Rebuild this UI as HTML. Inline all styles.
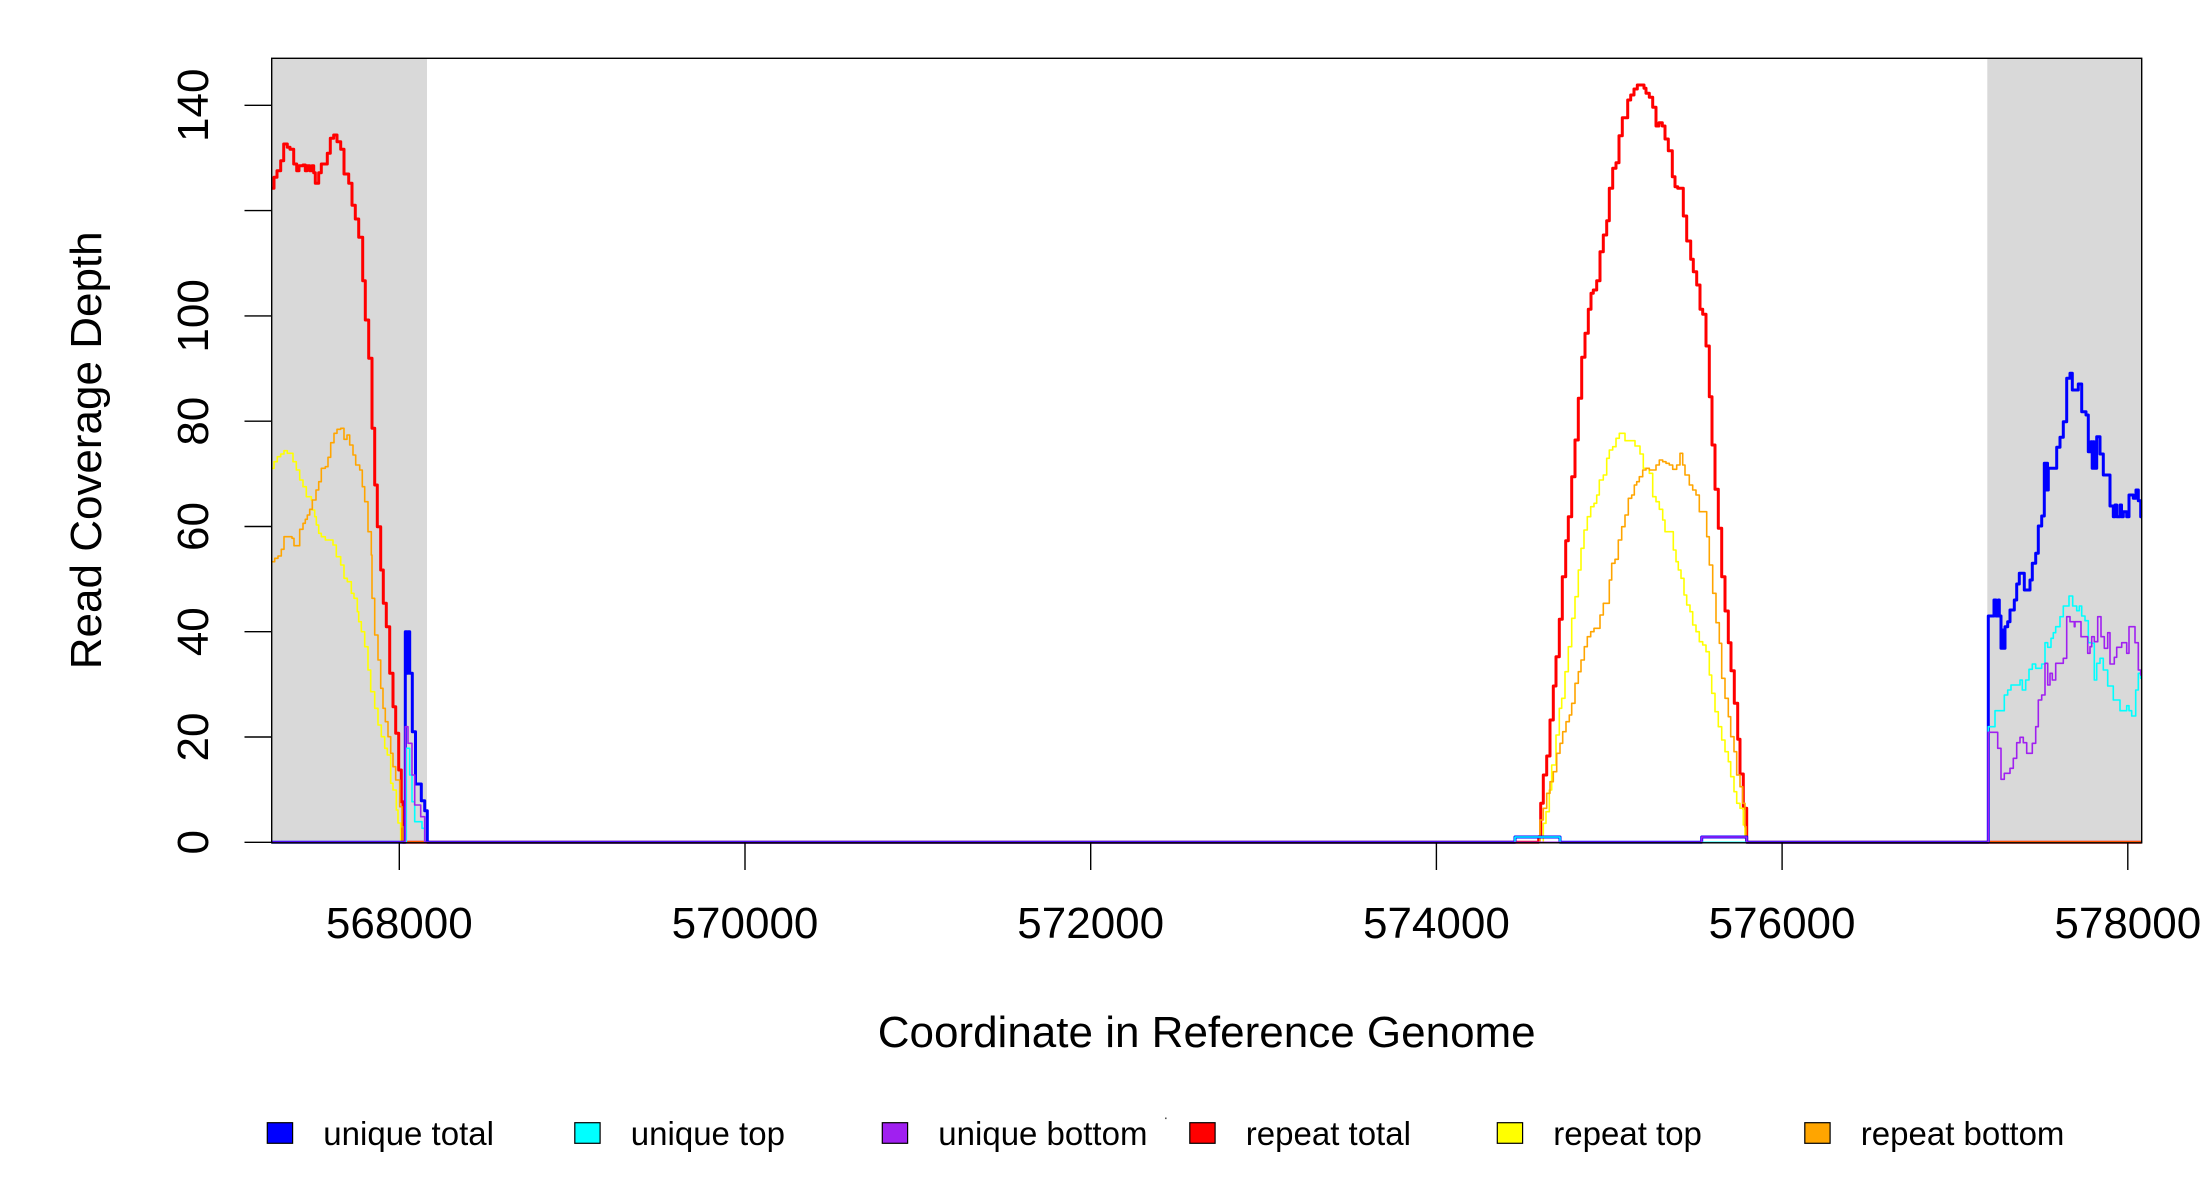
<!DOCTYPE html>
<html><head><meta charset="utf-8"><style>
html,body{margin:0;padding:0;background:#fff;}
svg{display:block;}
text{font-family:"Liberation Sans",Arial,sans-serif;fill:#000;}
</style></head><body>
<svg width="2200" height="1200" viewBox="0 0 2200 1200" xmlns="http://www.w3.org/2000/svg">
<rect x="0" y="0" width="2200" height="1200" fill="#fff"/>
<!-- gray regions -->
<rect x="271.7" y="58.3" width="155.3" height="784" fill="#D9D9D9"/>
<rect x="1987.3" y="58.3" width="154.4" height="784" fill="#D9D9D9"/>

<g fill="none" stroke-linejoin="round" stroke-linecap="butt">
<!-- repeat total -->
<path stroke="#FF0000" stroke-width="3" d="M271.7,188.3 H274 V177.3 H277 V170.7 H280.7 V160.7 H283.7 V144 H287.3 V147.3 H290 V149.3 H293.7 V164 H296.7 V170.7 H299 V165.7 H303 V165 H305.3 V170.7 H307 V165.7 H309.7 V170.7 H312 V165.7 H313.7 V172.7 H315.3 V183.3 H318.7 V172.7 H321.3 V164 H327.3 V153.3 H330.3 V138.3 H333.7 V135 H337 V141.7 H340.7 V149.3 H344 V174 H348.7 V183.3 H352 V205.3 H355.3 V219 H358.7 V237.3 H362.7 V280.7 H365.3 V320 H368.7 V358.3 H372 V428.3 H374.7 V485 H377.3 V526.7 H380.7 V570 H383.3 V603.3 H386.3 V626.7 H389.7 V673.3 H393 V706.7 H395.7 V733.3 H398.7 V770 H401.3 V801.7 H403 V842.3 H1538.7 V836.7 H1540.7 V803.3 H1543.3 V775 H1546.7 V756 H1550 V720 H1553.3 V686 H1556 V656.7 H1559.3 V619.3 H1562.3 V576.7 H1565.7 V540.7 H1568.3 V516.7 H1571.7 V476.7 H1575 V440 H1578.3 V398.3 H1581.7 V357.3 H1585 V333.3 H1588.3 V309.3 H1591 V293.3 H1593.3 V290 H1596.7 V280.7 H1600 V251.7 H1603.3 V235 H1606.7 V220.7 H1609.3 V188.3 H1612.7 V168.3 H1616 V162.7 H1619 V135.7 H1622.3 V117.7 H1627.7 V100 H1630.7 V95 H1634 V89 H1637.3 V85 H1644 V88.3 H1646 V93.3 H1649.3 V97.3 H1652.7 V107.3 H1656 V126 H1659 V122.7 H1662.3 V126 H1665 V139 H1668.3 V150.7 H1672.3 V176.7 H1675 V186.7 H1677.7 V188.3 H1683.3 V216 H1686.7 V241 H1690.7 V259.3 H1693.3 V271.7 H1696.7 V285 H1700 V309.3 H1702.7 V314.3 H1706 V346 H1709.3 V396.7 H1712 V445 H1715 V489.3 H1718.3 V528.3 H1721.7 V576.7 H1725 V611 H1728.3 V642.7 H1731 V670.7 H1734.3 V703.3 H1737.7 V739.3 H1740 V774 H1743.3 V808.3 H1746.7 V842.3 H2141.7"/>
<!-- repeat top -->
<path stroke="#FFFF00" stroke-width="1.6" d="M271.7,468.3 H274 V461.7 H277.3 V456.7 H280.7 V454 H284 V450.7 H287.3 V453.3 H293 V461.7 H296.3 V470 H299.7 V480 H303 V486.7 H306.3 V496.7 H311.3 V500 H312.3 V510 H314.7 V516.7 H316.3 V525 H318.7 V533.3 H321.3 V536.7 H325.3 V540 H333 V545 H336.3 V556.7 H340.7 V565 H344 V578.3 H347.3 V581.7 H351.3 V593.3 H354 V598.3 H357.3 V611.7 H358.7 V621.7 H361.3 V631.7 H364.7 V646.7 H368 V670 H370.7 V691.7 H374.7 V708.3 H378 V725 H381.3 V736.7 H384.7 V748.3 H387.3 V755 H390.7 V783.3 H393 V790 H396.3 V810 H398 V823 H400.7 V842.3 H1543.3 V823.3 H1546 V811.7 H1549.3 V790 H1551.7 V765 H1556 V735 H1559.3 V708.3 H1561.7 V698.3 H1565 V671.7 H1568.3 V646.7 H1571.7 V618.3 H1575 V596.7 H1578.3 V570 H1581 V548.3 H1584 V530 H1587.3 V516.7 H1590.7 V506.7 H1594 V503.3 H1596.7 V495 H1599.3 V480 H1603.3 V475 H1606.7 V458.3 H1609.3 V450 H1612.7 V446.7 H1616 V438.3 H1619.3 V433.3 H1625 V440.7 H1635 V446 H1640 V454 H1643.3 V468.3 H1649.3 V473.3 H1652.7 V496.7 H1656 V501.7 H1659.3 V509.3 H1662.7 V520 H1665 V531.7 H1673.3 V550 H1676 V561.7 H1678.3 V570 H1681 V578.3 H1684 V595 H1686.7 V605 H1690 V611.7 H1692.7 V625 H1696 V631.7 H1699.3 V641.7 H1702.7 V645 H1706 V651.7 H1709.3 V675 H1711.7 V693.3 H1715 V711.7 H1718.3 V726.7 H1721.7 V740 H1725 V751.7 H1728.3 V761.7 H1730.7 V776.7 H1734 V791.7 H1736.7 V803.3 H1740 V808.3 H1743.3 V825 H1745 V838.3 H1746.7 V842.3 H2141.7"/>
<!-- repeat bottom -->
<path stroke="#FFA500" stroke-width="1.6" d="M271.7,561.7 H274.7 V558.3 H278 V556 H281.3 V549.3 H284 V536.7 H292 V538.3 H294 V545.7 H299.7 V529.3 H303 V523.3 H305.3 V519.3 H307.3 V515 H309.7 V509.3 H312.3 V500 H316 V490 H318.7 V481.7 H321.3 V468.3 H325.3 V466.7 H328 V457.3 H330.7 V442.7 H334 V433.3 H337 V429.3 H340.7 V428.3 H344 V439.3 H347 V435 H349.7 V445 H353 V455 H355.7 V465 H359.7 V470 H362.3 V486.7 H364.7 V501.7 H368 V531.7 H371.3 V555 H372 V598.3 H374.7 V635 H378 V660 H380.7 V688.3 H383 V708.3 H385.3 V721.7 H388 V736.7 H390.7 V753.3 H393 V766.7 H395.7 V780 H399.7 V806.7 H402 V826.7 H403 V842.3 H1540 V820 H1543.3 V808.3 H1546.7 V793.3 H1550 V781.7 H1553.3 V771.7 H1556.7 V753.3 H1560 V743.3 H1562.7 V731.7 H1566 V721.7 H1569.3 V715 H1571.7 V703.3 H1575 V683.3 H1578.3 V671.7 H1581 V660 H1584.3 V646.7 H1587.3 V636.7 H1590.7 V631.7 H1594 V628.3 H1600 V615 H1603.3 V603.3 H1609.3 V580 H1611.7 V563.3 H1615 V559.3 H1618.3 V540 H1621.7 V526.7 H1625 V515 H1628.3 V498.3 H1631.7 V495 H1634.3 V485 H1636.7 V481.7 H1639.3 V476.7 H1642.7 V470 H1646 V468.3 H1649.3 V470 H1656 V465 H1659.3 V460 H1662.7 V461.7 H1666 V463.3 H1669.3 V465 H1672.7 V469.3 H1676.7 V465 H1680 V453.3 H1682.7 V465 H1685 V475 H1689.3 V485 H1692.7 V490 H1696 V495 H1699.3 V511.7 H1706.7 V536.7 H1709.3 V565 H1712.7 V593.3 H1716 V622.7 H1719.3 V643.3 H1721.7 V678.3 H1725 V698.3 H1728.3 V716.7 H1730.7 V736.7 H1734 V751.7 H1736.7 V775 H1740 V786.7 H1742.7 V803.3 H1745 V826.7 H1746 V842.3 H2141.7"/>
<!-- unique total -->
<path stroke="#0000FF" stroke-width="3" d="M271.7,842.3 H405.3 V631.7 H407 V673.3 H408 V631.7 H409.7 V673.3 H412.3 V731.7 H415.5 V784 H421.3 V800.7 H424.7 V810.7 H427.3 V842.3 H1515 V837 H1560 V842.3 H1701.7 V837 H1746.7 V842.3 H1988.3 V616 H1994 V600 H1996 V616 H1998.3 V600 H1999.3 V616 H2001 V648.3 H2002.5 V630 H2003.5 V648.3 H2005 V626.7 H2007.7 V621.7 H2010 V610 H2014.3 V600 H2016.7 V584 H2019.3 V573.3 H2024.3 V590 H2030 V580 H2032.3 V563.3 H2035.7 V553.3 H2038.3 V526 H2041.7 V516 H2044.3 V463.3 H2045.5 V490 H2046.5 V463.3 H2047.5 V490 H2048.3 V468.3 H2056.7 V447.3 H2060 V437.3 H2063.3 V421.7 H2066.7 V378.3 H2070 V373.3 H2072.3 V390 H2078.3 V384 H2081.7 V411.7 H2086 V415 H2088.3 V451.7 H2091 V441.7 H2092.2 V468.3 H2093.3 V441.7 H2094 V468.3 H2096.7 V436.7 H2100 V454 H2103.3 V475 H2110 V506 H2113.3 V516.7 H2115 V505 H2116.7 V516.7 H2120 V505 H2121.5 V516.7 H2123.3 V511.7 H2126.7 V516.7 H2129 V495 H2133.3 V498.3 H2136 V490 H2138.3 V500.7 H2140.7 V516.7 H2141.7"/>
<!-- unique top -->
<path stroke="#00FFFF" stroke-width="1.6" d="M271.7,842.3 H406.3 V748.3 H409.7 V775 H412 V801.7 H414.7 V821.7 H422 V828.3 H424.7 V842.3 H1515 V837 H1560 V842.3 H1988.3 V726.7 H1995 V710.7 H2004.3 V695 H2007.7 V690 H2011 V685 H2020 V680 H2022.3 V690 H2025.7 V680 H2029 V669.3 H2032.3 V664 H2035.7 V668.3 H2041.7 V664 H2045 V642.7 H2047.7 V647.3 H2051 V638.3 H2053.3 V632.7 H2055.7 V626.7 H2060 V616.7 H2063.3 V606 H2069 V596 H2072.7 V606 H2076.7 V610.7 H2079.3 V606 H2081.7 V616 H2085 V620.7 H2088.3 V642.7 H2091.7 V643.3 H2094.3 V680 H2096.7 V663.3 H2100 V658.3 H2103.3 V670 H2107.7 V686 H2113.3 V700 H2120 V710.7 H2126.7 V705.7 H2129 V710.7 H2131.7 V716 H2135.7 V690 H2138.3 V673.3 H2140.7 V678.3 H2141.7"/>
<!-- unique bottom -->
<path stroke="#A020F0" stroke-width="1.6" d="M271.7,842.3 H405.3 V726.7 H408 V743.3 H412 V775 H414.7 V805 H420.7 V816.7 H424.7 V842.3 H1701.7 V837 H1746.7 V842.3 H1988.3 V732.3 H1997.7 V748.3 H2001 V779.3 H2004.3 V773.3 H2010 V768.3 H2013.3 V758.3 H2016.7 V742.7 H2020 V737.3 H2023.3 V742.7 H2026.7 V753.3 H2032.3 V743.3 H2035.7 V726.7 H2038.3 V700 H2041.7 V695 H2045 V663.3 H2047.7 V685 H2050 V673.3 H2052.3 V680 H2055.7 V663.3 H2063.3 V658.3 H2066.7 V616.7 H2070 V621.7 H2074.3 V626.7 H2075 V621.7 H2081 V636.7 H2087.7 V653.3 H2090 V646.7 H2091.7 V636.7 H2094.3 V641.7 H2097.7 V616.7 H2101 V636.7 H2104.3 V648.3 H2107.7 V632.7 H2110 V664 H2114.3 V657.3 H2116.7 V647.3 H2121.7 V642.7 H2126.7 V653.3 H2129 V626.7 H2135 V642.7 H2138.3 V670 H2140.7 V675 H2141.7"/>
</g>

<!-- plot box -->
<rect x="271.7" y="58.3" width="1870" height="784.5" fill="none" stroke="#000" stroke-width="1.4"/>

<!-- y axis ticks -->
<g stroke="#000" stroke-width="1.4">
<line x1="244.5" y1="842.3" x2="271.7" y2="842.3"/>
<line x1="244.5" y1="737.0" x2="271.7" y2="737.0"/>
<line x1="244.5" y1="631.7" x2="271.7" y2="631.7"/>
<line x1="244.5" y1="526.5" x2="271.7" y2="526.5"/>
<line x1="244.5" y1="421.2" x2="271.7" y2="421.2"/>
<line x1="244.5" y1="315.9" x2="271.7" y2="315.9"/>
<line x1="244.5" y1="210.6" x2="271.7" y2="210.6"/>
<line x1="244.5" y1="105.3" x2="271.7" y2="105.3"/>
<!-- x axis ticks -->
<line x1="399.3" y1="842.3" x2="399.3" y2="870"/>
<line x1="745" y1="842.3" x2="745" y2="870"/>
<line x1="1090.7" y1="842.3" x2="1090.7" y2="870"/>
<line x1="1436.4" y1="842.3" x2="1436.4" y2="870"/>
<line x1="1782.1" y1="842.3" x2="1782.1" y2="870"/>
<line x1="2127.8" y1="842.3" x2="2127.8" y2="870"/>
</g>

<!-- y tick labels -->
<g font-size="44" text-anchor="middle">
<text transform="translate(208,842.3) rotate(-90)">0</text>
<text transform="translate(208,737.0) rotate(-90)">20</text>
<text transform="translate(208,631.7) rotate(-90)">40</text>
<text transform="translate(208,526.5) rotate(-90)">60</text>
<text transform="translate(208,421.2) rotate(-90)">80</text>
<text transform="translate(208,315.9) rotate(-90)">100</text>
<text transform="translate(208,105.3) rotate(-90)">140</text>
<!-- x tick labels -->
<text x="399.3" y="938">568000</text>
<text x="745" y="938">570000</text>
<text x="1090.7" y="938">572000</text>
<text x="1436.4" y="938">574000</text>
<text x="1782.1" y="938">576000</text>
<text x="2127.8" y="938">578000</text>
<!-- axis titles -->
<text x="1206.7" y="1047">Coordinate in Reference Genome</text>
<text transform="translate(101,450.3) rotate(-90)">Read Coverage Depth</text>
</g>

<!-- legend -->
<g stroke="#000" stroke-width="1.2">
<rect x="267.3" y="1122.7" width="25.3" height="20.6" fill="#0000FF"/>
<rect x="574.8" y="1122.7" width="25.3" height="20.6" fill="#00FFFF"/>
<rect x="882.3" y="1122.7" width="25.3" height="20.6" fill="#A020F0"/>
<rect x="1189.8" y="1122.7" width="25.3" height="20.6" fill="#FF0000"/>
<rect x="1497.3" y="1122.7" width="25.3" height="20.6" fill="#FFFF00"/>
<rect x="1804.8" y="1122.7" width="25.3" height="20.6" fill="#FFA500"/>
</g>
<g font-size="33">
<text x="323.3" y="1145">unique total</text>
<text x="630.8" y="1145">unique top</text>
<text x="938.3" y="1145">unique bottom</text>
<text x="1245.8" y="1145">repeat total</text>
<text x="1553.3" y="1145">repeat top</text>
<text x="1860.8" y="1145">repeat bottom</text>
</g>
<rect x="1165" y="1117.5" width="1.6" height="1.6" fill="#555"/>
</svg>
</body></html>
